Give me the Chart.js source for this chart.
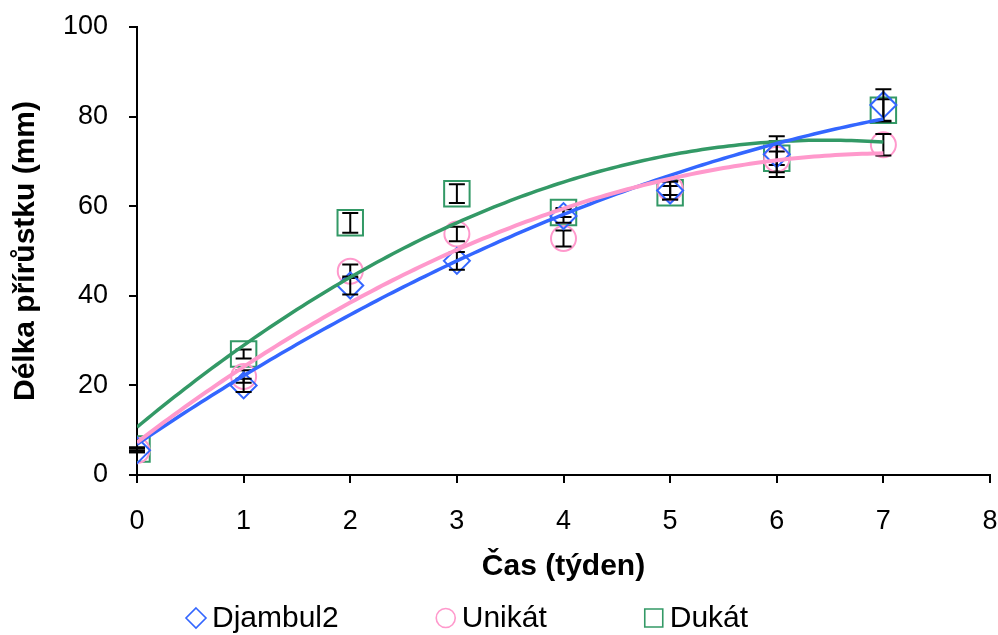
<!DOCTYPE html>
<html>
<head>
<meta charset="utf-8">
<script src="https://cdn.jsdelivr.net/npm/chart.js@4"></script>
<style>
html, body { margin: 0; padding: 0; background: #fff; }
</style>
</head>
<body>
<canvas id="chart" width="998" height="635"></canvas>
<script>
// weeks and measured lengths (mm) with their error bars
let weeks = [0, 1, 2, 3, 4, 5, 6, 7]
let djambul2 = [5.5, 20, 42.3, 47.8, 57.8, 63.5, 71.6, 82.6]
let djambul2Err = [0.4, 1.5, 2, 2, 1.5, 2, 4, 3.5]
let unikat = [5.5, 22, 45.5, 53.8, 52.8, 64, 70.5, 73.7]
let unikatErr = [0.4, 1.4, 1.5, 1.6, 1.8, 1.5, 4, 2.4]
let dukat = [5.8, 27, 56.3, 62.8, 58.6, 63, 70.7, 81.4]
let dukatErr = [0.4, 1, 2.2, 2.1, 1, 1.5, 1.5, 2.5]
let xTicks = [0, 1, 2, 3, 4, 5, 6, 7, 8]
let yTicks = [0, 20, 40, 60, 80, 100]

const BLUE = '#3366ff'
const PINK = '#ff99cc'
const GREEN = '#339966'

function points(ys) {
  return weeks.map((w, i) => ({ x: w, y: ys[i] }))
}

// least squares 2nd order polynomial (trendline)
function polyFit(xs, ys) {
  let s = [0, 0, 0, 0, 0], t = [0, 0, 0]
  for (let i = 0; i < xs.length; i++) {
    let p = 1
    for (let k = 0; k < 5; k++) { s[k] += p; if (k < 3) t[k] += p * ys[i]; p *= xs[i] }
  }
  let m = [[s[0], s[1], s[2], t[0]], [s[1], s[2], s[3], t[1]], [s[2], s[3], s[4], t[2]]]
  for (let c = 0; c < 3; c++) {
    for (let r = c + 1; r < 3; r++) {
      let f = m[r][c] / m[c][c]
      for (let k = c; k < 4; k++) m[r][k] -= f * m[c][k]
    }
  }
  let coef = [0, 0, 0]
  for (let r = 2; r >= 0; r--) {
    let v = m[r][3]
    for (let k = r + 1; k < 3; k++) v -= m[r][k] * coef[k]
    coef[r] = v / m[r][r]
  }
  return coef
}
function trend(ys) {
  let c = polyFit(weeks, ys)
  let out = []
  let last = weeks[weeks.length - 1]
  for (let i = 0; i <= 140; i++) {
    let x = weeks[0] + (last - weeks[0]) * i / 140
    out.push({ x: x, y: c[0] + c[1] * x + c[2] * x * x })
  }
  return out
}

// black error bars drawn right after each marker series
const errorBars = {
  id: 'errorBars',
  afterDatasetDraw(chart, args) {
    let ds = chart.data.datasets[args.index]
    if (!ds.errors) return
    let ctx = chart.ctx, xs = chart.scales.x, ys = chart.scales.y
    ctx.save()
    ctx.strokeStyle = '#000'
    ctx.lineWidth = 2
    ds.data.forEach((p, i) => {
      let px = xs.getPixelForValue(p.x)
      let top = ys.getPixelForValue(p.y + ds.errors[i])
      let bot = ys.getPixelForValue(p.y - ds.errors[i])
      ctx.beginPath()
      ctx.moveTo(px, top); ctx.lineTo(px, bot)
      ctx.moveTo(px - 8, top); ctx.lineTo(px + 8, top)
      ctx.moveTo(px - 8, bot); ctx.lineTo(px + 8, bot)
      ctx.stroke()
    })
    ctx.restore()
  }
}

// legend row under the axis title
const bottomLegend = {
  id: 'bottomLegend',
  afterDraw(chart) {
    let ctx = chart.ctx
    let items = [
      { text: 'Djambul2', shape: 'diamond', color: BLUE },
      { text: 'Unikát', shape: 'circle', color: PINK },
      { text: 'Dukát', shape: 'square', color: GREEN }
    ]
    let x = 186, y = 618
    ctx.save()
    ctx.font = '30px "Liberation Sans", Arial, sans-serif'
    ctx.textBaseline = 'middle'
    ctx.fillStyle = '#000'
    ctx.lineWidth = 1.6
    items.forEach(it => {
      ctx.strokeStyle = it.color
      ctx.beginPath()
      if (it.shape === 'diamond') {
        let cx = x + 10
        ctx.moveTo(cx, y - 10); ctx.lineTo(cx + 10, y); ctx.lineTo(cx, y + 10); ctx.lineTo(cx - 10, y); ctx.closePath()
      } else if (it.shape === 'circle') {
        ctx.arc(x + 10, y, 9.5, 0, Math.PI * 2)
      } else {
        ctx.rect(x + 1, y - 9, 18, 18)
      }
      ctx.stroke()
      ctx.fillText(it.text, x + 26, y + 1)
      x += 26 + ctx.measureText(it.text).width + 97
    })
    ctx.restore()
  }
}

const tickFont = { family: '"Liberation Sans", Arial, sans-serif', size: 27 }
const titleFont = { family: '"Liberation Sans", Arial, sans-serif', size: 30, weight: 'bold' }

const chart = new Chart(document.getElementById('chart'), {
  type: 'scatter',
  data: {
    datasets: [
      { label: 'Djambul2', data: points(djambul2), errors: djambul2Err, order: 2,
        pointStyle: 'rectRot', pointRadius: 13, borderColor: BLUE, backgroundColor: 'rgba(0,0,0,0)', borderWidth: 2, pointHoverRadius: 13 },
      { label: 'Unikát', data: points(unikat), errors: unikatErr, order: 2,
        pointStyle: 'circle', pointRadius: 12.5, borderColor: PINK, backgroundColor: 'rgba(0,0,0,0)', borderWidth: 2, pointHoverRadius: 12.5 },
      { label: 'Dukát', data: points(dukat), errors: dukatErr, order: 2,
        pointStyle: 'rect', pointRadius: 18, borderColor: GREEN, backgroundColor: 'rgba(0,0,0,0)', borderWidth: 2, pointHoverRadius: 18 },
      { type: 'line', label: 'trend Djambul2', data: trend(djambul2), order: 1,
        borderColor: BLUE, borderWidth: 3.5, pointRadius: 0, fill: false, tension: 0 },
      { type: 'line', label: 'trend Unikát', data: trend(unikat), order: 0,
        borderColor: PINK, borderWidth: 4, pointRadius: 0, fill: false, tension: 0 },
      { type: 'line', label: 'trend Dukát', data: trend(dukat), order: 1,
        borderColor: GREEN, borderWidth: 3.5, pointRadius: 0, fill: false, tension: 0 }
    ]
  },
  options: {
    responsive: false,
    animation: false,
    devicePixelRatio: 1,
    layout: { autoPadding: false, padding: { top: 27, right: 8, bottom: 50, left: 0 } },
    plugins: { legend: { display: false }, tooltip: { enabled: false } },
    scales: {
      x: {
        type: 'linear', min: 0, max: 8,
        afterBuildTicks: s => { s.ticks = xTicks.map(v => ({ value: v })) },
        afterFit: s => { s.height = 110; s.paddingLeft = 0; s.paddingRight = 0 },
        ticks: { color: '#000', font: tickFont, padding: 22 },
        grid: { drawOnChartArea: false, color: '#000', tickLength: 8, lineWidth: 2 },
        border: { color: '#000', width: 2 },
        title: { display: true, text: 'Čas (týden)', color: '#000', font: titleFont, padding: 0 }
      },
      y: {
        min: 0, max: 100,
        afterBuildTicks: s => { s.ticks = yTicks.map(v => ({ value: v })) },
        afterFit: s => { s.width = 137; s.paddingTop = 0; s.paddingBottom = 0 },
        ticks: { color: '#000', font: tickFont, padding: 21 },
        grid: { drawOnChartArea: false, color: '#000', tickLength: 8, lineWidth: 2 },
        border: { color: '#000', width: 2 },
        title: { display: true, text: 'Délka přírůstku (mm)', color: '#000', font: titleFont, padding: { top: 8 } }
      }
    }
  },
  plugins: [errorBars, bottomLegend]
})
</script>
</body>
</html>
